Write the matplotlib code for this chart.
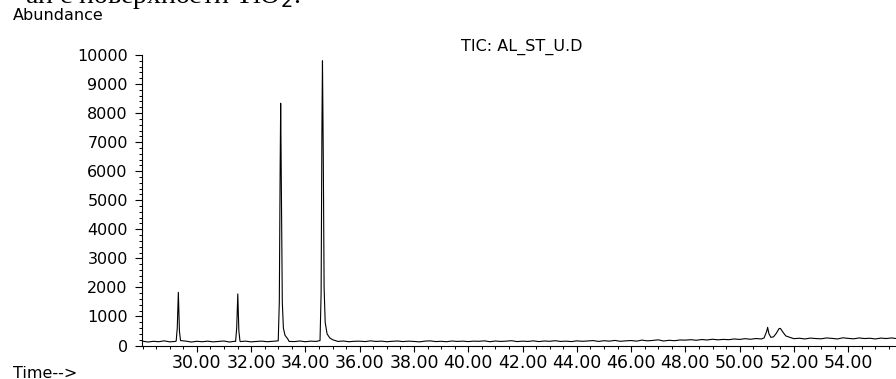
import numpy as np
import matplotlib
matplotlib.use("Agg")
import matplotlib.pyplot as plt
from matplotlib.ticker import MultipleLocator, FixedLocator

# ---------------- data ----------------
# Baseline noise, sampled every 0.2 min from 28.0 to 55.8 min
baseline_start = 28.0
baseline_step = 0.2
baseline_abundance = [
    150, 120, 145, 130, 160, 125, 140, 135, 150, 120,
    145, 130, 150, 125, 140, 155, 120, 145, 135, 150,
    125, 140, 150, 130, 145, 120, 150, 140, 135, 155,
    130, 150, 140, 125, 150, 160, 140, 155, 130, 145,
    150, 135, 160, 140, 150, 130, 145, 155, 135, 150,
    140, 125, 150, 160, 135, 145, 130, 155, 140, 150,
    135, 150, 145, 160, 130, 155, 140, 150, 165, 135,
    150, 140, 160, 135, 155, 145, 165, 140, 150, 135,
    160, 145, 155, 170, 140, 165, 150, 175, 145, 160,
    170, 150, 185, 160, 175, 195, 155, 180, 165, 190,
    185, 200, 180, 205, 190, 215, 195, 210, 200, 225,
    210, 235, 215, 240, 225, 250, 230, 245, 220, 260,
    235, 250, 225, 255, 240, 230, 260, 245, 225, 265,
    245, 230, 260, 240, 250, 225, 255, 240, 260, 235,
]

# Peaks (time in min, abundance)
peak1_time = [29.24, 29.28, 29.32, 29.36, 29.40]
peak1_abund = [150, 600, 1830, 500, 170]
peak2_time = [31.43, 31.47, 31.51, 31.55, 31.59]
peak2_abund = [140, 600, 1775, 500, 160]
peak3_time = [33.00, 33.04, 33.07, 33.09, 33.12, 33.15, 33.19, 33.25, 33.35]
peak3_abund = [160, 1500, 6000, 8340, 5000, 1500, 600, 350, 230]
peak4_time = [34.54, 34.58, 34.61, 34.63, 34.66, 34.69, 34.73, 34.80, 34.90, 35.00]
peak4_abund = [170, 1800, 7500, 9800, 6500, 2000, 800, 400, 260, 200]
peak5_time = [50.90, 51.00, 51.03, 51.08, 51.15, 51.25, 51.35, 51.45, 51.50, 51.60, 51.70, 51.85]
peak5_abund = [260, 500, 625, 400, 280, 300, 420, 580, 590, 450, 330, 280]

y_ticks = [0, 1000, 2000, 3000, 4000, 5000, 6000, 7000, 8000, 9000, 10000]
x_ticks = [30, 32, 34, 36, 38, 40, 42, 44, 46, 48, 50, 52, 54]
x_tick_labels = ["30.00", "32.00", "34.00", "36.00", "38.00", "40.00", "42.00",
                 "44.00", "46.00", "48.00", "50.00", "52.00", "54.00"]

# ---------------- assemble trace ----------------
bt = baseline_start + baseline_step * np.arange(len(baseline_abundance))
ba = np.array(baseline_abundance, dtype=float)
peaks = [(peak1_time, peak1_abund), (peak2_time, peak2_abund), (peak3_time, peak3_abund),
         (peak4_time, peak4_abund), (peak5_time, peak5_abund)]
keep = np.ones_like(bt, dtype=bool)
for pt, pa in peaks:
    keep &= ~((bt >= pt[0] - 1e-9) & (bt <= pt[-1] + 1e-9))
t_all = np.concatenate([bt[keep]] + [np.array(p[0]) for p in peaks])
a_all = np.concatenate([ba[keep]] + [np.array(p[1], dtype=float) for p in peaks])
order = np.argsort(t_all)
t_all, a_all = t_all[order], a_all[order]

# ---------------- figure ----------------
plt.rcParams['font.family'] = ['DejaVu Sans']
fig = plt.figure(figsize=(8.96, 3.79), dpi=100)
ax = fig.add_axes([141.7 / 896, 33.5 / 379, 1 - 141.7 / 896, (345.5 - 55) / 379])

ax.plot(t_all, a_all, color='black', lw=0.8, clip_on=False)
ax.set_xlim(27.97, 55.76)
ax.set_ylim(0, 10000)

for s in ['top', 'right']:
    ax.spines[s].set_visible(False)
for s in ['left', 'bottom']:
    ax.spines[s].set_linewidth(0.8)

ax.yaxis.set_major_locator(FixedLocator(y_ticks))
ax.yaxis.set_minor_locator(MultipleLocator(200))
ax.set_yticklabels([str(v) for v in y_ticks])
ax.xaxis.set_major_locator(FixedLocator(x_ticks))
ax.xaxis.set_minor_locator(MultipleLocator(0.5))
ax.set_xticklabels(x_tick_labels)

ax.tick_params(axis='y', which='major', direction='out', length=5, width=0.8,
               labelsize=11.5, pad=5)
ax.tick_params(axis='y', which='minor', direction='out', length=2.5, width=0.7)
ax.tick_params(axis='x', which='major', direction='out', length=4, width=0.8,
               labelsize=12.5, pad=2)
ax.tick_params(axis='x', which='minor', direction='out', length=2.5, width=0.7)

fig.text(13 / 896, 1 - 16 / 379, "Abundance", fontsize=11.5, ha='left', va='center')
fig.text(522 / 896, 1 - 47 / 379, "TIC: AL_ST_U.D", fontsize=11.5, ha='center', va='center')
fig.text(13 / 896, 1 - 373 / 379, "Time-->", fontsize=11.5, ha='left', va='center')

# partially visible caption line from the page above the chart (cut off at the top edge)
fig.text(300 / 896, 1 - 3 / 379, "ан с поверхности TiO$_2$.", fontsize=20,
         family=['Liberation Serif', 'DejaVu Serif'], ha='right', va='baseline')

fig.savefig("out.png", dpi=100)
